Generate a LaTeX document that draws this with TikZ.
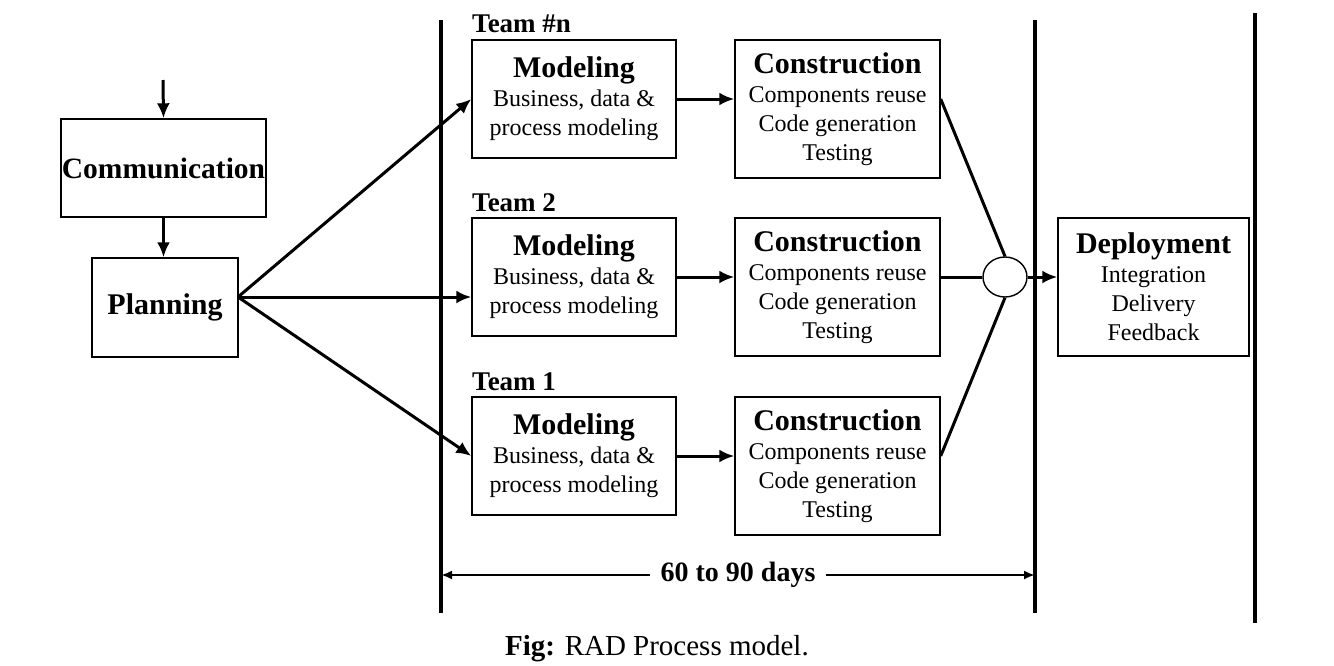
\documentclass[tikz,border=0pt]{standalone}
\usepackage{fontspec}
\setmainfont{Liberation Serif}
\usetikzlibrary{arrows.meta,shapes.geometric}

\begin{document}
\begin{tikzpicture}[x=1pt,y=-1pt,
    box/.style={draw,line width=1.4pt,inner sep=0pt,align=center,
        font=\fontsize{24}{29}\selectfont},
    modbox/.style={box,minimum width=204,minimum height=118},
    conbox/.style={box,minimum width=205,minimum height=138},
    teamlabel/.style={anchor=base west,inner sep=0pt,
        font=\fontsize{27}{30}\selectfont\bfseries},
    arr/.style={line width=3pt,-{Latex[length=15pt,width=13pt]}},
    bar/.style={line width=4.5pt}]
    \useasboundingbox (0,0) rectangle (1334,665);
    \newcommand{\ttl}[1]{{\fontsize{30}{31}\selectfont\bfseries #1}}

    % left side
    \coordinate (start) at (163,80);
    \node[box,minimum width=205,minimum height=98] (comm) at (163.5,168)
        {\fontsize{29.5}{31}\selectfont\bfseries Communication};
    \node[box,minimum width=146,minimum height=99] (plan) at (165,307.5)
        {\ttl{Planning}};
    \coordinate (fork) at (238,297);

    % time box bars
    \coordinate (b1t) at (441,20);  \coordinate (b1b) at (441,613);
    \coordinate (b2t) at (1035,20); \coordinate (b2b) at (1035,613);
    \coordinate (b3t) at (1255,13); \coordinate (b3b) at (1255,623);
    \draw[bar] (b1t) -- (b1b);
    \draw[bar] (b2t) -- (b2b);
    \draw[bar,line width=3.5pt] (b3t) -- (b3b);

    % teams
    \node[teamlabel] (tn) at (472,32) {Team \#n};
    \node[teamlabel] (t2) at (472,211) {Team 2};
    \node[teamlabel] (t1) at (472,390) {Team 1};

    \node[modbox] (mod3) at (574,99)
        {\ttl{Modeling}\\Business, data \&\\process modeling};
    \node[modbox] (mod2) at (574,277)
        {\ttl{Modeling}\\Business, data \&\\process modeling};
    \node[modbox] (mod1) at (574,456)
        {\ttl{Modeling}\\Business, data \&\\process modeling};

    \node[conbox] (con3) at (837.5,109)
        {\ttl{Construction}\\Components reuse\\Code generation\\Testing};
    \node[conbox] (con2) at (837.5,287)
        {\ttl{Construction}\\Components reuse\\Code generation\\Testing};
    \node[conbox] (con1) at (837.5,466)
        {\ttl{Construction}\\Components reuse\\Code generation\\Testing};

    \node[draw,ellipse,line width=1.4pt,minimum width=44,minimum height=40,
        inner sep=0pt] (join) at (1005,277) {};

    \node[box,minimum width=191,minimum height=138] (dep) at (1153.5,287)
        {\ttl{Deployment}\\Integration\\Delivery\\Feedback};

    % connectors
    \draw[arr] (start) -- (comm.north);
    \draw[arr] (comm.south) -- (comm.south |- plan.north);
    \draw[arr] (fork) -- (mod3.west);
    \draw[arr] (fork) -- (fork -| mod2.west);
    \draw[arr] (fork) -- (mod1.west);

    \draw[arr] (mod3.east) -- (mod3.east -| con3.west);
    \draw[arr] (mod2.east) -- (mod2.east -| con2.west);
    \draw[arr] (mod1.east) -- (mod1.east -| con1.west);

    \draw[line width=3pt] ([yshift=10pt]con3.east) -- (join.north);
    \draw[line width=3pt] ([yshift=10pt]con2.east) -- (join.west);
    \draw[line width=3pt] ([yshift=10pt]con1.east) -- (join.south);
    \draw[arr] (join.east) -- (join.east -| dep.west);

    % duration
    \node[fill=white,inner xsep=10pt,font=\fontsize{28}{30}\selectfont\bfseries]
        (days) at (738,575) {60 to 90 days};
    \draw[arr,line width=2.2pt,-{Latex[length=11pt,width=9pt]}]
        (days.west) -- (b1b |- days.west);
    \draw[arr,line width=2.2pt,-{Latex[length=11pt,width=9pt]}]
        (days.east) -- (b2b |- days.east);

    % caption
    \node[font=\fontsize{29}{31}\selectfont] (cap) at (657,649)
        {\textbf{Fig:} RAD Process model.};
\end{tikzpicture}
\end{document}
